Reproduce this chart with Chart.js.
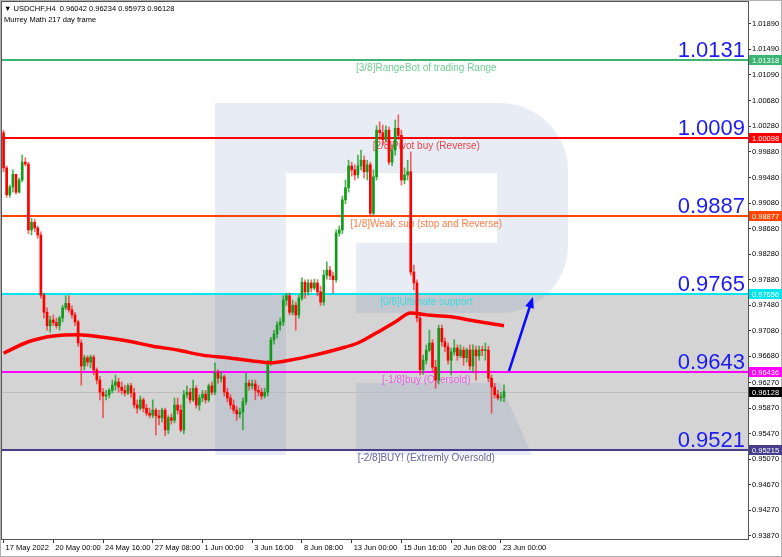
<!DOCTYPE html>
<html>
<head>
<meta charset="utf-8">
<script src="https://cdn.jsdelivr.net/npm/chart.js@4.4.0/dist/chart.umd.min.js"></script>
<style>
  html, body { margin: 0; padding: 0; background: #fff; }
  canvas { display: block; }
</style>
</head>
<body>
<canvas id="chart" width="782" height="557"></canvas>
<script>
// USDCHF H4 candles, 17 May 2022 08:00 .. 23 Jun 2022 04:00
const opens = [
  1.0018, 0.9963, 0.9921, 0.9933, 0.9953, 0.9925, 0.9944, 0.9972, 0.9969, 0.9866,
  0.9878, 0.9869, 0.9858, 0.9764, 0.9737, 0.9716, 0.9725, 0.9721, 0.9716, 0.9728,
  0.9744, 0.9751, 0.9741, 0.9733, 0.9722, 0.9689, 0.9653, 0.9666, 0.9659, 0.9667,
  0.9647, 0.9631, 0.9612, 0.9606, 0.9608, 0.9615, 0.9623, 0.9628, 0.9620, 0.9615,
  0.9611, 0.9622, 0.9611, 0.9592, 0.9587, 0.9600, 0.9587, 0.9579, 0.9576, 0.9584,
  0.9575, 0.9572, 0.9584, 0.9553, 0.9572, 0.9568, 0.9592, 0.9584, 0.9553, 0.9608,
  0.9612, 0.9600, 0.9618, 0.9592, 0.9603, 0.9609, 0.9600, 0.9622, 0.9612, 0.9642,
  0.9634, 0.9636, 0.9612, 0.9603, 0.9592, 0.9584, 0.9578, 0.9581, 0.9597, 0.9626,
  0.9622, 0.9625, 0.9615, 0.9612, 0.9606, 0.9612, 0.9659, 0.9694, 0.9703, 0.9717,
  0.9722, 0.9756, 0.9763, 0.9737, 0.9748, 0.9733, 0.9759, 0.9784, 0.9769, 0.9783,
  0.9775, 0.9783, 0.9769, 0.9753, 0.9795, 0.9803, 0.9794, 0.9788, 0.9861, 0.9866,
  0.9913, 0.9932, 0.9966, 0.9960, 0.9952, 0.9966, 0.9975, 0.9957, 0.9968, 0.9892,
  0.9949, 1.0022, 1.0018, 1.0007, 1.0022, 0.9972, 0.9991, 1.0025, 1.0014, 0.9944,
  0.9952, 0.9957, 0.9800, 0.9783, 0.9728, 0.9647, 0.9662, 0.9678, 0.9689, 0.9651,
  0.9631, 0.9712, 0.9691, 0.9683, 0.9662, 0.9675, 0.9681, 0.9669, 0.9678, 0.9666,
  0.9678, 0.9653, 0.9678, 0.9669, 0.9678, 0.9677, 0.9678, 0.9634, 0.9620, 0.9608,
  0.9603, 0.96042
];
const highs = [
  1.0022, 0.9966, 0.9936, 0.9960, 0.9953, 0.9947, 0.9983, 0.9979, 0.9972, 0.9884,
  0.9883, 0.9872, 0.9863, 0.9767, 0.9744, 0.9731, 0.9733, 0.9728, 0.9731, 0.9748,
  0.9763, 0.9763, 0.9747, 0.9737, 0.9725, 0.9694, 0.9670, 0.9669, 0.9670, 0.9670,
  0.9650, 0.9637, 0.9618, 0.9615, 0.9618, 0.9631, 0.9639, 0.9634, 0.9628, 0.9623,
  0.9625, 0.9626, 0.9618, 0.9600, 0.9606, 0.9603, 0.9593, 0.9587, 0.9600, 0.9587,
  0.9584, 0.9587, 0.9587, 0.9575, 0.9578, 0.9603, 0.9603, 0.9592, 0.9615, 0.9622,
  0.9618, 0.9631, 0.9622, 0.9608, 0.9615, 0.9615, 0.9625, 0.9628, 0.9658, 0.9647,
  0.9644, 0.9639, 0.9618, 0.9608, 0.9600, 0.9590, 0.9587, 0.9603, 0.9642, 0.9631,
  0.9631, 0.9631, 0.9623, 0.9618, 0.9618, 0.9662, 0.9698, 0.9709, 0.9722, 0.9728,
  0.9763, 0.9767, 0.9767, 0.9756, 0.9753, 0.9764, 0.9791, 0.9788, 0.9788, 0.9788,
  0.9789, 0.9788, 0.9778, 0.9803, 0.9816, 0.9809, 0.9800, 0.9866, 0.9872, 0.9919,
  0.9944, 0.9975, 0.9972, 0.9968, 0.9983, 0.9991, 0.9982, 0.9975, 0.9972, 0.9960,
  1.0029, 1.0035, 1.0030, 1.0029, 1.0027, 0.9999, 1.0038, 1.0046, 1.0022, 0.9963,
  0.9975, 0.9988, 0.9811, 0.9788, 0.9737, 0.9670, 0.9686, 0.9709, 0.9694, 0.9662,
  0.9717, 0.9717, 0.9697, 0.9689, 0.9681, 0.9694, 0.9686, 0.9686, 0.9683, 0.9681,
  0.9686, 0.9686, 0.9684, 0.9684, 0.9684, 0.9689, 0.9684, 0.9639, 0.9626, 0.9615,
  0.9612, 0.96234
];
const lows = [
  0.9957, 0.9917, 0.9917, 0.9925, 0.9922, 0.9924, 0.9941, 0.9966, 0.9860, 0.9858,
  0.9863, 0.9853, 0.9759, 0.9728, 0.9709, 0.9706, 0.9716, 0.9712, 0.9709, 0.9722,
  0.9741, 0.9737, 0.9728, 0.9716, 0.9684, 0.9623, 0.9647, 0.9653, 0.9650, 0.9639,
  0.9625, 0.9600, 0.9572, 0.9600, 0.9603, 0.9611, 0.9615, 0.9612, 0.9609, 0.9606,
  0.9608, 0.9604, 0.9587, 0.9579, 0.9584, 0.9581, 0.9575, 0.9572, 0.9572, 0.9545,
  0.9561, 0.9565, 0.9544, 0.9547, 0.9562, 0.9564, 0.9578, 0.9550, 0.9547, 0.9603,
  0.9595, 0.9597, 0.9587, 0.9584, 0.9597, 0.9595, 0.9597, 0.9608, 0.9608, 0.9626,
  0.9628, 0.9606, 0.9597, 0.9586, 0.9579, 0.9568, 0.9572, 0.9553, 0.9592, 0.9615,
  0.9617, 0.9600, 0.9606, 0.9601, 0.9603, 0.9606, 0.9654, 0.9687, 0.9697, 0.9709,
  0.9716, 0.9748, 0.9733, 0.9733, 0.9709, 0.9728, 0.9756, 0.9759, 0.9764, 0.9769,
  0.9772, 0.9763, 0.9748, 0.9748, 0.9789, 0.9788, 0.9767, 0.9784, 0.9856, 0.9860,
  0.9907, 0.9925, 0.9950, 0.9944, 0.9947, 0.9960, 0.9947, 0.9944, 0.9888, 0.9889,
  0.9944, 1.0007, 0.9999, 1.0004, 0.9968, 0.9966, 0.9983, 1.0007, 0.9936, 0.9938,
  0.9944, 0.9795, 0.9772, 0.9722, 0.9639, 0.9640, 0.9656, 0.9675, 0.9644, 0.9618,
  0.9625, 0.9684, 0.9675, 0.9656, 0.9639, 0.9670, 0.9662, 0.9666, 0.9654, 0.9659,
  0.9647, 0.9644, 0.9631, 0.9662, 0.9669, 0.9662, 0.9628, 0.9579, 0.9603, 0.9600,
  0.9598, 0.95973
];
const closes = [
  0.9963, 0.9921, 0.9933, 0.9953, 0.9925, 0.9944, 0.9972, 0.9969, 0.9866, 0.9878,
  0.9869, 0.9858, 0.9764, 0.9737, 0.9716, 0.9725, 0.9721, 0.9716, 0.9728, 0.9744,
  0.9751, 0.9741, 0.9733, 0.9722, 0.9689, 0.9653, 0.9666, 0.9659, 0.9667, 0.9647,
  0.9631, 0.9612, 0.9606, 0.9608, 0.9615, 0.9623, 0.9628, 0.9620, 0.9615, 0.9611,
  0.9622, 0.9611, 0.9592, 0.9587, 0.9600, 0.9587, 0.9579, 0.9576, 0.9584, 0.9575,
  0.9572, 0.9584, 0.9553, 0.9572, 0.9568, 0.9592, 0.9584, 0.9553, 0.9608, 0.9612,
  0.9600, 0.9618, 0.9592, 0.9603, 0.9609, 0.9600, 0.9622, 0.9612, 0.9642, 0.9634,
  0.9636, 0.9612, 0.9603, 0.9592, 0.9584, 0.9578, 0.9581, 0.9597, 0.9626, 0.9622,
  0.9625, 0.9615, 0.9612, 0.9606, 0.9612, 0.9659, 0.9694, 0.9703, 0.9717, 0.9722,
  0.9756, 0.9763, 0.9737, 0.9748, 0.9733, 0.9759, 0.9784, 0.9769, 0.9783, 0.9775,
  0.9783, 0.9769, 0.9753, 0.9795, 0.9803, 0.9794, 0.9788, 0.9861, 0.9866, 0.9913,
  0.9932, 0.9966, 0.9960, 0.9952, 0.9966, 0.9975, 0.9957, 0.9968, 0.9892, 0.9949,
  1.0022, 1.0018, 1.0007, 1.0022, 0.9972, 0.9991, 1.0025, 1.0014, 0.9944, 0.9952,
  0.9957, 0.9800, 0.9783, 0.9728, 0.9647, 0.9662, 0.9678, 0.9689, 0.9651, 0.9631,
  0.9712, 0.9691, 0.9683, 0.9662, 0.9675, 0.9681, 0.9669, 0.9678, 0.9666, 0.9678,
  0.9653, 0.9678, 0.9669, 0.9678, 0.9677, 0.9678, 0.9634, 0.9620, 0.9608, 0.9603,
  0.9604, 0.96128
];

// time axis: one slot per H4 bar, chart shows 240 slots
const totalSlots = 240;
const timeLabels = ['17 May 2022', '20 May 00:00', '24 May 16:00', '27 May 08:00', '1 Jun 00:00',
  '3 Jun 16:00', '8 Jun 08:00', '13 Jun 00:00', '15 Jun 16:00', '20 Jun 08:00', '23 Jun 00:00'];
const timeLabelBars = [0, 16, 32, 48, 64, 80, 96, 112, 128, 144, 160];

// thick red moving average, read at these bars
const maBars = [0, 8, 16, 24, 32, 40, 48, 56, 64, 72, 80, 86, 92, 100, 108, 114, 120, 126, 131, 136, 144, 152, 161];
const maValues = [0.9673, 0.9691, 0.9700, 0.9702, 0.9698, 0.9692, 0.9684, 0.9678, 0.9670, 0.9666, 0.9661, 0.9658,
  0.9662, 0.9670, 0.9680, 0.9689, 0.9705, 0.9722, 0.9736, 0.9733, 0.9730, 0.9723, 0.9716];

// Murrey Math levels
const murreyLevels = [1.01318, 1.00098, 0.98877, 0.97656, 0.96436, 0.95215];
const murreyNames = ['[3/8]RangeBot of trading Range', '[2/8]Pivot buy (Reverse)', '[1/8]Weak sup (stop and Reverse)',
  '[0/8]Ultimate support', '[-1/8]buy (Oversold)', '[-2/8]BUY! (Extremly Oversold)'];
const murreyBig = ['1.0131', '1.0009', '0.9887', '0.9765', '0.9643', '0.9521'];
const murreyColors = ['#3cb371', '#ff0000', '#ff4500', '#00e5ee', '#ff00ff', '#483d8b'];
const murreyTextColors = ['#6fcf8f', '#e8454a', '#ff7b45', '#3fd9e0', '#e55be5', '#6a6499'];

const yTicks = [0.93870, 0.94270, 0.94670, 0.95070, 0.95470, 0.95870, 0.96270, 0.96680, 0.97080, 0.97480, 0.97880,
  0.98280, 0.98680, 0.99080, 0.99480, 0.99880, 1.00280, 1.00680, 1.01090, 1.01490, 1.01890];
const yMin = 0.93823;
const yMax = 1.02226;

const lastPrice = 0.96128;
const arrowFrom = [162.6, 0.9645];
const arrowTo = [170.3, 0.9761];

const FONT = '"Liberation Sans", Arial, sans-serif';
const UP = '#129a1a';
const DOWN = '#ff0000';

// build the tables the library needs
const labels = [];
for (let i = 0; i < totalSlots; i++) {
    const k = timeLabelBars.indexOf(i);
    labels.push(k >= 0 ? timeLabels[k] : '');
}
const wickData = opens.map((o, i) => [lows[i], highs[i]]);
const bodyData = opens.map((o, i) => [o, closes[i]]);
const maData = new Array(totalSlots).fill(null);
maBars.forEach((b, i) => { maData[b] = maValues[i]; });

const isUp = ctx => closes[ctx.dataIndex] >= opens[ctx.dataIndex];

function drawWatermark(ctx) {
    // RoboForex style "R" logo in the background
    ctx.fillStyle = 'rgba(100,130,180,0.15)';
    ctx.beginPath();
    ctx.moveTo(215, 103);
    ctx.lineTo(500, 103);
    ctx.arcTo(568, 103, 568, 171, 68);
    ctx.lineTo(568, 245);
    ctx.arcTo(568, 313, 500, 313, 68);
    ctx.lineTo(356, 313);
    ctx.lineTo(356, 243);
    ctx.lineTo(497, 243);
    ctx.lineTo(497, 173);
    ctx.lineTo(286, 173);
    ctx.lineTo(286, 455);
    ctx.lineTo(215, 455);
    ctx.closePath();
    ctx.fill();
    ctx.beginPath();
    ctx.moveTo(356, 383);
    ctx.lineTo(500, 383);
    ctx.lineTo(532, 455);
    ctx.lineTo(356, 455);
    ctx.closePath();
    ctx.fill();
}

const murreyPlugin = {
    id: 'murrey',
    beforeDatasetsDraw(chart) {
        const { ctx, chartArea: a, scales: { x, y } } = chart;
        ctx.save();
        ctx.beginPath();
        ctx.rect(a.left, a.top, a.right - a.left, a.bottom - a.top);
        ctx.clip();

        // grey zone between 0/8 and -2/8
        const zTop = y.getPixelForValue(murreyLevels[3]);
        const zBot = y.getPixelForValue(murreyLevels[5]);
        ctx.fillStyle = '#d4d4d4';
        ctx.fillRect(a.left, zTop, a.right - a.left, zBot - zTop);

        drawWatermark(ctx);

        // current price line
        const lp = Math.round(y.getPixelForValue(lastPrice)) + 0.5;
        ctx.strokeStyle = '#bdbdbd';
        ctx.lineWidth = 1;
        ctx.beginPath();
        ctx.moveTo(a.left, lp);
        ctx.lineTo(a.right, lp);
        ctx.stroke();

        const textX = x.getPixelForValue(136);
        murreyLevels.forEach((lvl, i) => {
            const py = Math.round(y.getPixelForValue(lvl));
            ctx.strokeStyle = murreyColors[i];
            ctx.lineWidth = 2;
            ctx.beginPath();
            ctx.moveTo(a.left, py);
            ctx.lineTo(a.right, py);
            ctx.stroke();

            ctx.fillStyle = murreyTextColors[i];
            ctx.font = '10px ' + FONT;
            ctx.textAlign = 'center';
            ctx.textBaseline = 'middle';
            ctx.fillText(murreyNames[i], textX, py + 8);

            ctx.fillStyle = '#1c1cf0';
            ctx.font = '22px ' + FONT;
            ctx.textAlign = 'right';
            ctx.textBaseline = 'alphabetic';
            ctx.fillText(murreyBig[i], a.right - 3, py - 3);
        });
        ctx.restore();
    },
    afterDatasetsDraw(chart) {
        const { ctx, scales: { x, y } } = chart;
        // blue arrow towards 0/8
        const x0 = x.getPixelForValue(arrowFrom[0]), y0 = y.getPixelForValue(arrowFrom[1]);
        const x1 = x.getPixelForValue(arrowTo[0]), y1 = y.getPixelForValue(arrowTo[1]);
        const ang = Math.atan2(y1 - y0, x1 - x0);
        const head = 11;
        ctx.save();
        ctx.strokeStyle = '#0a0aff';
        ctx.fillStyle = '#0a0aff';
        ctx.lineWidth = 2.5;
        ctx.beginPath();
        ctx.moveTo(x0, y0);
        ctx.lineTo(x1 - Math.cos(ang) * head * 0.8, y1 - Math.sin(ang) * head * 0.8);
        ctx.stroke();
        ctx.beginPath();
        ctx.moveTo(x1, y1);
        ctx.lineTo(x1 - head * Math.cos(ang) + 4.5 * Math.sin(ang), y1 - head * Math.sin(ang) - 4.5 * Math.cos(ang));
        ctx.lineTo(x1 - head * Math.cos(ang) - 4.5 * Math.sin(ang), y1 - head * Math.sin(ang) + 4.5 * Math.cos(ang));
        ctx.closePath();
        ctx.fill();
        ctx.restore();
    },
    afterDraw(chart) {
        const { ctx, chartArea: a, scales: { y } } = chart;
        ctx.save();
        // chart frame
        ctx.strokeStyle = '#555';
        ctx.lineWidth = 1;
        ctx.strokeRect(a.left - 0.5, a.top - 0.5, a.right - a.left + 1, a.bottom - a.top + 1);
        ctx.strokeStyle = '#b0b0b0';
        ctx.strokeRect(0.5, 0.5, chart.width - 1, chart.height - 1);

        // price boxes on the axis
        ctx.font = '7.5px ' + FONT;
        ctx.textBaseline = 'middle';
        ctx.textAlign = 'left';
        const boxes = murreyLevels.map((v, i) => [v, murreyColors[i]]);
        boxes.push([lastPrice, '#000000']);
        boxes.forEach(([v, c]) => {
            const py = Math.round(y.getPixelForValue(v));
            ctx.fillStyle = c;
            ctx.fillRect(a.right + 1, py - 5, 33, 10);
            ctx.fillStyle = '#ffffff';
            ctx.fillText(v.toFixed(5), a.right + 4, py + 0.5);
        });

        // header
        ctx.fillStyle = '#000';
        ctx.fillText('\u25BC USDCHF,H4  0.96042 0.96234 0.95973 0.96128', 4, 9);
        ctx.fillText('Murrey Math 217 day frame', 4, 20);
        ctx.restore();
    }
};

new Chart(document.getElementById('chart'), {
    type: 'bar',
    data: {
        labels: labels,
        datasets: [
            {
                type: 'line',
                label: 'MA',
                data: maData,
                borderColor: '#ff0000',
                borderWidth: 3.5,
                pointRadius: 0,
                spanGaps: true,
                cubicInterpolationMode: 'monotone',
                order: 0
            },
            {
                label: 'body',
                data: bodyData,
                grouped: false,
                barThickness: 2,
                minBarLength: 1,
                backgroundColor: ctx => isUp(ctx) ? UP : DOWN,
                order: 1
            },
            {
                label: 'wick',
                data: wickData,
                grouped: false,
                barThickness: 1,
                backgroundColor: ctx => isUp(ctx) ? 'rgba(18,154,26,0.75)' : 'rgba(255,0,0,0.6)',
                order: 2
            }
        ]
    },
    options: {
        responsive: false,
        animation: false,
        devicePixelRatio: 1,
        layout: { padding: { left: 2, top: 2, right: 0, bottom: 0 } },
        plugins: { legend: { display: false }, tooltip: { enabled: false } },
        scales: {
            x: {
                type: 'category',
                offset: true,
                grid: { display: true, offset: false, drawOnChartArea: false, drawTicks: true, tickLength: 4, color: '#333' },
                border: { color: '#333' },
                ticks: {
                    autoSkip: false,
                    maxRotation: 0,
                    align: 'start',
                    labelOffset: 2,
                    padding: 0,
                    color: '#000',
                    font: { size: 7.5, family: FONT }
                },
                afterBuildTicks: scale => {
                    scale.ticks = scale.ticks.filter(t => timeLabelBars.includes(t.value));
                },
                afterFit: scale => {
                    scale.height = 18;
                    scale.paddingLeft = 0;
                    scale.paddingRight = 0;
                }
            },
            y: {
                type: 'linear',
                position: 'right',
                min: yMin,
                max: yMax,
                grid: { display: true, drawOnChartArea: false, drawTicks: true, tickLength: 3, color: '#333' },
                border: { color: '#333' },
                ticks: {
                    padding: 1,
                    color: '#000',
                    font: { size: 7.5, family: FONT },
                    callback: v => v.toFixed(5)
                },
                afterBuildTicks: scale => {
                    scale.ticks = yTicks.map(v => ({ value: v }));
                },
                afterFit: scale => {
                    scale.width = 34;
                    scale.paddingTop = 0;
                    scale.paddingBottom = 0;
                }
            }
        }
    },
    plugins: [murreyPlugin]
});
</script>
</body>
</html>
